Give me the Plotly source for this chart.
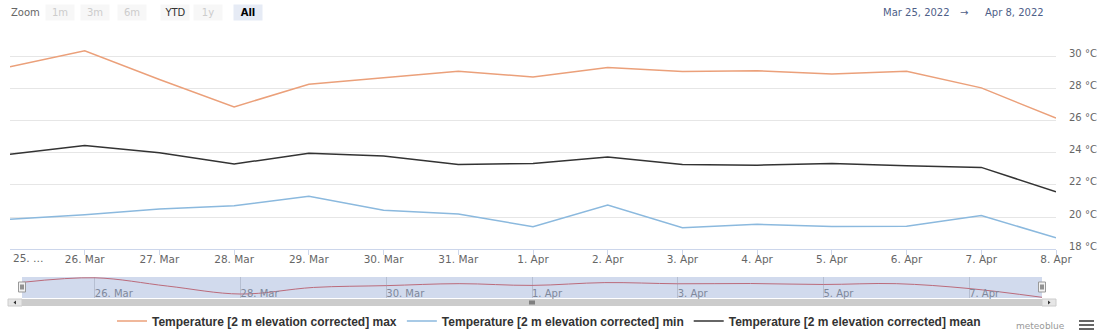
import plotly.graph_objects as go
import pandas as pd

# Daily 2 m temperature (elevation corrected), 25 Mar - 8 Apr 2022
dates = pd.date_range("2022-03-25", "2022-04-08", freq="D").strftime("%Y-%m-%d").tolist()
temp_max = [29.35, 30.33, 28.55, 26.85, 28.26, 28.65, 29.07, 28.70, 29.30, 29.05, 29.10, 28.90, 29.07, 28.03, 26.15]
temp_min = [19.86, 20.14, 20.50, 20.70, 21.30, 20.42, 20.20, 19.40, 20.75, 19.34, 19.55, 19.42, 19.44, 20.10, 18.71]
temp_mean = [23.90, 24.45, 24.00, 23.30, 23.97, 23.80, 23.27, 23.33, 23.73, 23.27, 23.23, 23.33, 23.19, 23.09, 21.57]

series_names = [
    "Temperature [2 m elevation corrected] max",
    "Temperature [2 m elevation corrected] min",
    "Temperature [2 m elevation corrected] mean",
]
series_colors = ["#eba07a", "#8bb9de", "#333333"]

y_ticks = [18, 20, 22, 24, 26, 28, 30, 32]
y_ticktext = [f"{v} °C" for v in y_ticks[:-1]] + [""]

x_tickvals = dates[1:]
x_ticktext = [f"{pd.Timestamp(d).day}. {pd.Timestamp(d).strftime('%b')}" for d in x_tickvals]
nav_tickvals = dates[1::2]
nav_ticktext = [f"{pd.Timestamp(d).day}. {pd.Timestamp(d).strftime('%b')}" for d in nav_tickvals]

W, H = 1104, 333
ML, MR, MT, MB = 10, 48, 24, 35
PW, PH = W - ML - MR, H - MT - MB


def px_x(x):
    return (x - ML) / PW


def px_y(y):
    return (H - MB - y) / PH


fig = go.Figure()
for vals, name, color in zip([temp_max, temp_min, temp_mean], series_names, series_colors):
    fig.add_trace(go.Scatter(
        x=dates, y=vals, name=name, mode="lines",
        line=dict(color=color, width=1.5),
        xaxis="x", yaxis="y",
    ))

# navigator series
fig.add_trace(go.Scatter(
    x=dates, y=temp_max, mode="lines", showlegend=False, hoverinfo="skip",
    line=dict(color="#e0605c", width=1, shape="spline"),
    xaxis="x2", yaxis="y2",
))

axis_font = dict(family="DejaVu Sans", size=10.5, color="#666666")

shapes = []
# navigator mask
shapes.append(dict(type="rect", xref="paper", yref="paper", layer="above",
                   x0=px_x(22), x1=px_x(1042), y0=px_y(298), y1=px_y(277),
                   fillcolor="rgba(102,133,194,0.3)", line=dict(width=0)))
# navigator handles
for hx in (22, 1042):
    shapes.append(dict(type="rect", xref="paper", yref="paper", layer="above",
                       x0=px_x(hx - 3.5), x1=px_x(hx + 3.5), y0=px_y(292), y1=px_y(282),
                       fillcolor="#f2f2f2", line=dict(color="#999999", width=1)))
    for dx in (-1, 1):
        shapes.append(dict(type="line", xref="paper", yref="paper", layer="above",
                           x0=px_x(hx + dx), x1=px_x(hx + dx), y0=px_y(289.5), y1=px_y(284.5),
                           line=dict(color="#333333", width=1)))
# scrollbar
shapes.append(dict(type="rect", xref="paper", yref="paper", layer="above",
                   x0=px_x(8), x1=px_x(1056), y0=px_y(306), y1=px_y(299),
                   fillcolor="#f2f2f2", line=dict(width=0)))
shapes.append(dict(type="rect", xref="paper", yref="paper", layer="above",
                   x0=px_x(22), x1=px_x(1042), y0=px_y(306), y1=px_y(299),
                   fillcolor="#cccccc", line=dict(width=0)))
for bx0, bx1 in ((8, 22), (1042, 1056)):
    shapes.append(dict(type="rect", xref="paper", yref="paper", layer="above",
                       x0=px_x(bx0), x1=px_x(bx1), y0=px_y(306), y1=px_y(299),
                       fillcolor="#e6e6e6", line=dict(color="#cccccc", width=1)))
# scrollbar arrows
shapes.append(dict(type="path", xref="paper", yref="paper", layer="above",
                   path=f"M {px_x(13.5)},{px_y(302.5)} L {px_x(16)},{px_y(300.5)} L {px_x(16)},{px_y(304.5)} Z",
                   fillcolor="#333333", line=dict(width=0)))
shapes.append(dict(type="path", xref="paper", yref="paper", layer="above",
                   path=f"M {px_x(1050.5)},{px_y(302.5)} L {px_x(1048)},{px_y(300.5)} L {px_x(1048)},{px_y(304.5)} Z",
                   fillcolor="#333333", line=dict(width=0)))
# scrollbar grip
for gx in (530, 532, 534):
    shapes.append(dict(type="line", xref="paper", yref="paper", layer="above",
                       x0=px_x(gx), x1=px_x(gx), y0=px_y(304.5), y1=px_y(300.5),
                       line=dict(color="#333333", width=1)))
# menu icon
for my in (321, 325, 329):
    shapes.append(dict(type="line", xref="paper", yref="paper",
                       x0=px_x(1079), x1=px_x(1094), y0=px_y(my), y1=px_y(my),
                       line=dict(color="#666666", width=2)))

annotations = []
annotations.append(dict(text="25. …", x=px_x(11), y=px_y(257.5), xref="paper", yref="paper",
                        xanchor="left", yanchor="middle", showarrow=False, font=axis_font))
annotations.append(dict(text="Zoom", x=px_x(9), y=px_y(12), xref="paper", yref="paper",
                        xanchor="left", yanchor="middle", showarrow=False,
                        font=dict(family="DejaVu Sans", size=10, color="#666666")))
buttons = [("1m", 59.5, "#cccccc", "#f7f7f7", False),
           ("3m", 95, "#cccccc", "#f7f7f7", False),
           ("6m", 132, "#cccccc", "#f7f7f7", False),
           ("YTD", 174.5, "#333333", "#f7f7f7", False),
           ("1y", 208, "#cccccc", "#f7f7f7", False),
           ("All", 247.5, "#000000", "#e6ebf5", True)]
for label, cx, fc, bg, sel in buttons:
    annotations.append(dict(text=f"<b>{label}</b>" if sel else label,
                            x=px_x(cx), y=px_y(12), xref="paper", yref="paper",
                            xanchor="center", yanchor="middle", showarrow=False,
                            width=28, height=15, bgcolor=bg, borderpad=0,
                            font=dict(family="DejaVu Sans", size=10, color=fc)))
range_font = dict(family="DejaVu Sans", size=10, color="#4e6088")
annotations.append(dict(text="Mar 25, 2022", x=px_x(952), y=px_y(12), xref="paper", yref="paper",
                        xanchor="right", yanchor="middle", showarrow=False, font=range_font))
annotations.append(dict(text="→", x=px_x(964), y=px_y(12), xref="paper", yref="paper",
                        xanchor="center", yanchor="middle", showarrow=False, font=range_font))
annotations.append(dict(text="Apr 8, 2022", x=px_x(983), y=px_y(12), xref="paper", yref="paper",
                        xanchor="left", yanchor="middle", showarrow=False, font=range_font))
annotations.append(dict(text="meteoblue", x=px_x(1067), y=px_y(326), xref="paper", yref="paper",
                        xanchor="right", yanchor="middle", showarrow=False,
                        font=dict(family="DejaVu Sans", size=9, color="#999999")))

fig.update_layout(
    width=W, height=H,
    margin=dict(l=ML, r=MR, t=MT, b=MB, autoexpand=False),
    paper_bgcolor="white", plot_bgcolor="white",
    xaxis=dict(
        type="date", domain=[0, 1], range=[dates[0], dates[-1]],
        tickvals=x_tickvals, ticktext=x_ticktext, tickfont=axis_font,
        showgrid=False, zeroline=False,
        showline=True, linecolor="#ccd6eb", linewidth=1,
        ticks="outside", ticklen=5, tickcolor="#ccd6eb",
        ticklabelstandoff=-5,
        anchor="y",
    ),
    yaxis=dict(
        domain=[px_y(249.3), 1], range=[18, 32], side="right",
        tickvals=y_ticks, ticktext=y_ticktext,
        tickfont=dict(family="DejaVu Sans", size=10, color="#666666"),
        showgrid=True, gridcolor="#e6e6e6", gridwidth=1, zeroline=False,
        showline=False, ticks="", ticklabelstandoff=12, ticklabelshift=-3,
        anchor="x",
    ),
    xaxis2=dict(
        type="date", domain=[px_x(22), px_x(1042)], range=[dates[0], dates[-1]],
        tickvals=nav_tickvals, ticktext=nav_ticktext,
        tickfont=dict(family="DejaVu Sans", size=10, color="#8a8a8a"),
        ticklabelposition="inside right", ticks="", ticklabelstandoff=-7,
        showgrid=True, gridcolor="#d8d8d8", zeroline=False, showline=False,
        anchor="y2",
    ),
    yaxis2=dict(
        domain=[0, px_y(277)], range=[26.0, 30.5],
        showgrid=False, zeroline=False, showticklabels=False, showline=False,
        anchor="x2",
    ),
    legend=dict(
        orientation="h", x=px_x(549), xanchor="center", y=px_y(321), yanchor="middle",
        font=dict(family="Liberation Sans", size=12, color="#333333", weight="bold"),
        bgcolor="rgba(0,0,0,0)", itemwidth=30,
    ),
    shapes=shapes,
    annotations=annotations,
    hovermode="x",
)

fig.write_html("out.html")
